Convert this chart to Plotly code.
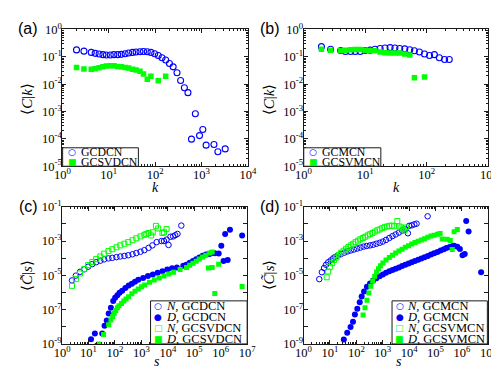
import numpy as np
import plotly.graph_objects as go

# ---------------- panel (a) : <C|k>, GCDCN / GCSVDCN ----------------
a_k_gcdcn = [2.02, 2.92, 4.2, 5.1, 6.2, 7.5, 8.9, 10.8, 12.9, 15.6, 18.7, 22.6, 26.9, 32.7, 38.9,
             47.2, 56.2, 67.8, 81.3, 98, 117, 141, 169, 204, 245, 297, 355, 428, 511, 609, 738,
             908, 1070, 1260, 1860, 2260, 3250]
a_c_gcdcn = [0.179, 0.161, 0.145, 0.134, 0.127, 0.12, 0.117, 0.117, 0.12, 0.12, 0.123, 0.13, 0.137,
             0.145, 0.149, 0.153, 0.157, 0.153, 0.145, 0.13, 0.111, 0.092, 0.076, 0.057, 0.043,
             0.026, 0.0137, 0.0074, 0.0049, 9.8e-5, 8.3e-4, 1.32e-4, 2.2e-4, 5.9e-5, 6.2e-5,
             3.4e-5, 4.3e-5]
a_k_gcsvdcn = [2.02, 2.92, 4.2, 5.1, 6.2, 7.5, 8.9, 10.8, 12.9, 15.6, 18.7, 22.6, 26.9, 32.7,
               38.9, 47.2, 56.2, 67.8, 81.3, 117, 169]
a_c_gcsvdcn = [0.041, 0.0359, 0.0349, 0.0368, 0.0398, 0.0433, 0.0457, 0.0469, 0.0469, 0.0445,
               0.0433, 0.041, 0.039, 0.0349, 0.033, 0.0296, 0.0234, 0.0152, 0.0194, 0.0133, 0.0194]

# ---------------- panel (b) : <C|k>, GCMCN / GCSVMCN ----------------
b_k_gcmcn = [1.95, 2.75, 4.0, 4.8, 5.8, 6.9, 8.3, 10.0, 12.0, 14.4, 17.5, 21, 25.4, 30.4, 36.4,
             44, 53, 63, 76, 92, 111, 133, 160, 195, 232]
b_c_gcmcn = [0.235, 0.189, 0.170, 0.157, 0.157, 0.157, 0.157, 0.170, 0.175, 0.189, 0.2, 0.211,
             0.217, 0.211, 0.2, 0.195, 0.18, 0.166, 0.149, 0.127, 0.111, 0.12, 0.092, 0.080, 0.080]
b_k_gcsvmcn = [1.95, 2.75, 4.0, 4.8, 5.8, 6.9, 8.3, 10.0, 12.0, 14.4, 17.5, 21, 25.4, 30.4, 36.4,
               44, 53, 63, 92]
b_c_gcsvmcn = [0.189, 0.175, 0.170, 0.175, 0.18, 0.184, 0.184, 0.175, 0.170, 0.166, 0.149, 0.141,
               0.137, 0.137, 0.137, 0.127, 0.117, 0.017, 0.0183]

# ---------------- panel (c) : <C~|s>  (values read as log10) ----------------
c_N_gcdcn_log_s = [0.376, 0.522, 0.679, 0.839, 0.985, 1.142, 1.288, 1.445, 1.591, 1.752, 1.898, 2.055,
                   2.201, 2.358, 2.504, 2.664, 2.810, 2.967, 3.113, 3.270, 3.416, 3.577, 3.759, 3.854,
                   3.953, 4.026, 4.100, 4.200, 4.280, 4.365, 4.510]
c_N_gcdcn_log_c = [-5.297, -5.018, -4.795, -4.650, -4.499, -4.348, -4.237, -4.147, -4.069, -4.013,
                   -3.980, -3.941, -3.902, -3.868, -3.829, -3.773, -3.701, -3.623, -3.533, -3.400,
                   -3.254, -3.065, -3.000, -3.000, -2.920, -3.230, -2.750, -2.730, -2.660, -2.585, -2.100]
c_D_gcdcn_log_s = [1.095, 1.241, 1.325, 1.518, 1.606, 1.690, 1.763, 1.847, 1.934, 2.007, 2.091, 2.175,
                   2.274, 2.394, 2.518, 2.639, 2.759, 2.883, 3.066, 3.248, 3.431, 3.613, 3.796, 3.978,
                   4.161, 4.343, 4.584, 4.700, 4.828, 4.950, 5.070, 5.193, 5.314, 5.438, 5.560, 5.620,
                   5.777, 5.923, 6.022, 6.106, 6.168, 6.263, 6.350, 6.810]
c_D_gcdcn_log_c = [-8.723, -8.388, -9.090, -8.388, -7.942, -7.640, -7.233, -6.898, -6.491, -6.301,
                   -6.156, -6.022, -5.894, -5.743, -5.598, -5.487, -5.375, -5.263, -5.152, -5.040,
                   -4.945, -4.850, -4.761, -4.666, -4.594, -4.538, -4.443, -4.380, -4.260, -4.160,
                   -4.060, -3.960, -3.860, -3.790, -3.750, -3.734, -3.718, -3.734, -3.271, -4.164,
                   -2.585, -4.108, -2.339, -2.674]
c_N_gcsvdcn_log_s = [0.376, 0.522, 0.679, 0.839, 0.985, 1.142, 1.288, 1.445, 1.591, 1.752, 1.898,
                     2.055, 2.201, 2.358, 2.504, 2.664, 2.810, 2.967, 3.113, 3.186, 3.270, 3.369,
                     3.430, 3.551, 3.635, 3.796, 3.854, 3.953]
c_N_gcsvdcn_log_c = [-5.615, -5.224, -4.890, -4.627, -4.404, -4.220, -4.053, -3.902, -3.734, -3.589,
                     -3.478, -3.366, -3.254, -3.160, -3.065, -2.953, -2.840, -2.730, -2.640, -2.585,
                     -2.530, -2.674, -2.490, -2.116, -2.267, -2.530, -2.490, -2.306]
c_D_gcsvdcn_log_s = [1.398, 1.569, 1.763, 1.847, 1.909, 1.971, 2.029, 2.091, 2.153, 2.248, 2.336,
                     2.420, 2.518, 2.639, 2.759, 2.883, 3.004, 3.124, 3.307, 3.489, 3.672, 3.854,
                     4.036, 4.219, 4.464, 4.708, 4.828, 4.950, 5.073, 5.190, 5.314, 5.438, 5.584,
                     5.679, 5.533, 5.679, 5.923, 5.777, 6.810]
c_D_gcsvdcn_log_c = [-9.000, -8.444, -7.886, -7.607, -7.417, -7.233, -7.049, -6.898, -6.770, -6.636,
                     -6.491, -6.380, -6.246, -6.078, -5.933, -5.799, -5.671, -5.559, -5.408, -5.280,
                     -5.152, -5.040, -4.929, -4.817, -4.666, -4.538, -4.420, -4.300, -4.180, -4.050,
                     -3.930, -3.830, -3.700, -3.645, -4.571, -4.538, -4.348, -6.061, -5.654]

# ---------------- panel (d) : <C~|s>  (values read as log10) ----------------
d_N_gcmcn_log_s = [0.595, 0.693, 0.777, 0.850, 0.934, 1.033, 1.117, 1.204, 1.299, 1.423, 1.544, 1.664,
                   1.788, 1.909, 2.029, 2.153, 2.274, 2.394, 2.518, 2.639, 2.759, 2.883, 3.004, 3.124,
                   3.248, 3.369, 3.489, 3.613, 3.734, 3.854, 3.953, 4.000, 4.099, 4.197, 4.281, 4.700]
d_N_gcmcn_log_c = [-5.224, -4.817, -4.571, -4.387, -4.237, -4.125, -4.013, -3.924, -3.846, -3.757,
                   -3.679, -3.606, -3.550, -3.494, -3.439, -3.383, -3.327, -3.288, -3.254, -3.215,
                   -3.160, -3.104, -3.031, -2.936, -2.825, -2.713, -2.618, -2.507, -2.395, -2.306,
                   -2.546, -2.116, -2.083, -2.027, -1.988, -1.558]
d_D_gcmcn_log_s = [1.526, 1.653, 1.781, 1.872, 1.945, 2.036, 2.128, 2.201, 2.292, 2.401, 2.518, 2.639,
                   2.759, 2.883, 3.004, 3.124, 3.248, 3.369, 3.489, 3.613, 3.734, 3.854, 3.978, 4.099,
                   4.219, 4.343, 4.464, 4.584, 4.708, 4.828, 4.949, 5.073, 5.193, 5.314, 5.412, 5.533,
                   5.631, 5.704, 5.825, 5.923, 6.022, 6.106, 6.161, 6.252, 6.726]
d_D_gcmcn_log_c = [-8.740, -8.350, -8.015, -7.708, -7.289, -6.954, -6.564, -6.229, -5.950, -5.671,
                   -5.475, -5.308, -5.169, -5.057, -4.945, -4.850, -4.761, -4.683, -4.611, -4.538,
                   -4.460, -4.387, -4.315, -4.237, -4.164, -4.092, -4.013, -3.941, -3.868, -3.790,
                   -3.718, -3.634, -3.550, -3.478, -3.411, -3.344, -3.299, -3.271, -3.327, -3.467,
                   -3.829, -3.757, -1.837, -2.451, -4.817]
d_N_gcsvmcn_log_s = [0.876, 0.934, 0.996, 1.080, 1.153, 1.241, 1.336, 1.423, 1.518, 1.606, 1.701,
                     1.788, 1.883, 1.971, 2.066, 2.153, 2.248, 2.336, 2.431, 2.518, 2.613, 2.701,
                     2.796, 2.883, 2.978, 3.066, 3.161, 3.248, 3.343, 3.431, 3.551, 3.635, 3.708,
                     3.770, 3.818, 3.880]
d_N_gcsvmcn_log_c = [-5.113, -4.778, -4.516, -4.292, -4.108, -3.958, -3.813, -3.679, -3.567, -3.455,
                     -3.344, -3.254, -3.160, -3.065, -2.975, -2.897, -2.825, -2.752, -2.674, -2.602,
                     -2.529, -2.451, -2.378, -2.323, -2.250, -2.194, -2.155, -2.116, -2.099, -2.138,
                     -1.837, -2.155, -2.211, -2.306, -2.395, -2.211]
d_D_gcsvmcn_log_s = [2.255, 2.328, 2.401, 2.474, 2.547, 2.620, 2.693, 2.766, 2.839, 2.912, 3.004,
                     3.124, 3.248, 3.369, 3.489, 3.613, 3.734, 3.854, 3.978, 4.099, 4.219, 4.343,
                     4.464, 4.584, 4.708, 4.828, 4.949, 5.073, 5.175, 5.255, 5.438, 5.558, 5.704,
                     5.825, 5.631]
d_D_gcsvmcn_log_c = [-7.317, -6.898, -6.452, -6.033, -5.643, -5.336, -5.057, -4.806, -4.610, -4.443,
                     -4.276, -4.108, -3.958, -3.829, -3.701, -3.589, -3.478, -3.366, -3.271, -3.176,
                     -3.087, -3.009, -2.936, -2.864, -2.786, -2.713, -2.657, -2.602, -2.563, -2.881,
                     -2.897, -2.964, -2.462, -2.323, -3.494]

# tick labels
k_ticks_a = [1, 10, 100, 1000, 10000]
k_ticks_b = [1, 10, 100, 1000]
c_ticks_ab = [1e-5, 1e-4, 1e-3, 1e-2, 1e-1, 1]
s_ticks = [10.0 ** e for e in range(0, 8)]
c_ticks_cd = [10.0 ** e for e in (-9, -7, -5, -3, -1)]

BLUE = "#0000ff"
GREEN = "#00ff00"
SERIF = "Liberation Serif"
W, H = 499, 370


def fx(px):
    return px / W


def fy(py):
    return 1 - py / H


def p10(v):
    return 10.0 ** np.array(v)


def pow_label(v):
    return "10<sup>%d</sup>" % int(round(np.log10(v)))


fig = go.Figure()


def add(xs, ys, n, symbol, color, size, lw):
    fig.add_trace(go.Scatter(
        x=xs, y=ys, mode="markers", xaxis="x" + ("" if n == 1 else str(n)),
        yaxis="y" + ("" if n == 1 else str(n)), showlegend=False, hoverinfo="skip",
        marker=dict(symbol=symbol, size=size, color=color, line=dict(width=lw, color=color))))


add(a_k_gcdcn, a_c_gcdcn, 1, "circle-open", BLUE, 6, 1.1)
add(a_k_gcsvdcn, a_c_gcsvdcn, 1, "square", GREEN, 5.5, 0)
add(b_k_gcmcn, b_c_gcmcn, 2, "circle-open", BLUE, 6, 1.1)
add(b_k_gcsvmcn, b_c_gcsvmcn, 2, "square", GREEN, 5.5, 0)

add(p10(c_N_gcdcn_log_s), p10(c_N_gcdcn_log_c), 3, "circle-open", BLUE, 5.5, 1.0)
add(p10(c_D_gcdcn_log_s), p10(c_D_gcdcn_log_c), 3, "circle", BLUE, 6, 0)
add(p10(c_N_gcsvdcn_log_s), p10(c_N_gcsvdcn_log_c), 3, "square-open", GREEN, 5, 1.0)
add(p10(c_D_gcsvdcn_log_s), p10(c_D_gcsvdcn_log_c), 3, "square", GREEN, 5, 0)

add(p10(d_N_gcmcn_log_s), p10(d_N_gcmcn_log_c), 4, "circle-open", BLUE, 5.5, 1.0)
add(p10(d_D_gcmcn_log_s), p10(d_D_gcmcn_log_c), 4, "circle", BLUE, 6, 0)
add(p10(d_N_gcsvmcn_log_s), p10(d_N_gcsvmcn_log_c), 4, "square-open", GREEN, 5, 1.0)
add(p10(d_D_gcsvmcn_log_s), p10(d_D_gcsvmcn_log_c), 4, "square", GREEN, 5, 0)

AX = "#1a1a1a"


def axis(domain, rng, tickvals, anchor, minor):
    return dict(type="log", domain=domain, range=rng, anchor=anchor, showline=True, linecolor=AX,
                linewidth=1, mirror="ticks", ticks="inside", ticklen=4, tickwidth=1, tickcolor=AX,
                showgrid=False, zeroline=False, tickmode="array", tickvals=tickvals,
                ticktext=[pow_label(v) for v in tickvals], ticklabelstandoff=-3,
                tickfont=dict(family=SERIF, size=12.5, color="#000"), minor=minor)


MINOR_DIGITS = dict(ticks="inside", ticklen=2, tickcolor=AX, dtick="D1", showgrid=False)
MINOR_DECADES = dict(ticks="inside", ticklen=4, tickcolor=AX, dtick=1, showgrid=False)

panels = {
    1: dict(x0=48, x1=240, y0=13, y1=156, xr=[0, 4], yr=[-5, 0], xt=k_ticks_a, yt=c_ticks_ab, ym=MINOR_DIGITS),
    2: dict(x0=297.7, x1=489, y0=13, y1=156, xr=[0, 3], yr=[-5, 0], xt=k_ticks_b, yt=c_ticks_ab, ym=MINOR_DIGITS),
    3: dict(x0=47.7, x1=239.3, y0=198.3, y1=341.7, xr=[0, 7], yr=[-9, -1], xt=s_ticks, yt=c_ticks_cd, ym=MINOR_DECADES),
    4: dict(x0=297.7, x1=489, y0=198.3, y1=341.7, xr=[0, 7], yr=[-9, -1], xt=s_ticks, yt=c_ticks_cd, ym=MINOR_DECADES),
}

layout = dict(width=W, height=H, margin=dict(l=0, r=0, t=0, b=0), paper_bgcolor="white",
              plot_bgcolor="white", showlegend=False)
for n, p in panels.items():
    sfx = "" if n == 1 else str(n)
    layout["xaxis" + sfx] = axis([fx(p["x0"]), fx(p["x1"])], p["xr"], p["xt"], "y" + sfx, MINOR_DIGITS)
    layout["yaxis" + sfx] = axis([fy(p["y1"]), fy(p["y0"])], p["yr"], p["yt"], "x" + sfx, p["ym"])
fig.update_layout(**layout)

ann = []
shapes = []


def text(px, py, t, size=11, family=SERIF, xanchor="center", angle=0, color="#000", pad=1):
    ann.append(dict(x=fx(px), y=fy(py), xref="paper", yref="paper", text=t, showarrow=False,
                    xanchor=xanchor, yanchor="middle", textangle=angle, borderpad=pad,
                    font=dict(family=family, size=size, color=color)))


# panel letters
for lab, (px, py) in {"(a)": (12.5, 12), "(b)": (262.5, 12), "(c)": (12.5, 198), "(d)": (262.5, 198)}.items():
    text(px, py, lab, size=16, family="Liberation Sans")

# axis titles
text(144, 178, "<i>k</i>", size=14, pad=0)
text(394, 178, "<i>k</i>", size=14, pad=0)
text(146, 360, "<i>s</i>", size=14, pad=0)
text(396, 360, "<i>s</i>", size=14, pad=0)
text(12, 86, "\u27e8<i>C</i>|<i>k</i>\u27e9", size=15, angle=-90)
text(262, 86, "\u27e8<i>C</i>|<i>k</i>\u27e9", size=15, angle=-90)
text(12, 270, "\u27e8<i>C\u0303</i>|<i>s</i>\u27e9", size=15, angle=-90)
text(262, 270, "\u27e8<i>C\u0303</i>|<i>s</i>\u27e9", size=15, angle=-90)

# legends (drawn as boxed key rows)
SYM = {"o": ("\u25cb", BLUE), "O": ("\u25cf", BLUE), "s": ("\u25a1", GREEN), "S": ("\u25a0", GREEN)}


def legend(x0, x1, y0, y1, rows, sym_dx, txt_dx, size):
    shapes.append(dict(type="rect", xref="paper", yref="paper", x0=fx(x0), x1=fx(x1), y0=fy(y1),
                       y1=fy(y0), line=dict(color=AX, width=1), fillcolor="white", layer="above"))
    h = (y1 - y0) / len(rows)
    for i, (sym, lab) in enumerate(rows):
        yc = y0 + h * (i + 0.5)
        g, c = SYM[sym]
        text(x0 + sym_dx, yc, g, size=9, family="DejaVu Sans", color=c, pad=0)
        text(x0 + txt_dx, yc, lab, size=size, xanchor="left", pad=0)


legend(48.3, 126.7, 136.7, 156, [("o", "GCDCN"), ("S", "GCSVDCN")], 10, 17.5, 11.8)
legend(297.9, 377.7, 136.7, 156, [("o", "GCMCN"), ("S", "GCSVMCN")], 10, 17.5, 11.8)
legend(139.3, 239.3, 296.7, 341.7, [("o", "<i>N</i>, GCDCN"), ("O", "<i>D</i>, GCDCN"),
                                    ("s", "<i>N</i>, GCSVDCN"), ("S", "<i>D</i>, GCSVDCN")], 7.8, 14.8, 12.5)
legend(389.3, 488, 296.7, 341.7, [("o", "<i>N</i>, GCMCN"), ("O", "<i>D</i>, GCMCN"),
                                  ("s", "<i>N</i>, GCSVMCN"), ("S", "<i>D</i>, GCSVMCN")], 7.8, 14.8, 12.5)

fig.update_layout(annotations=ann, shapes=shapes)
fig.write_html("out.html")
